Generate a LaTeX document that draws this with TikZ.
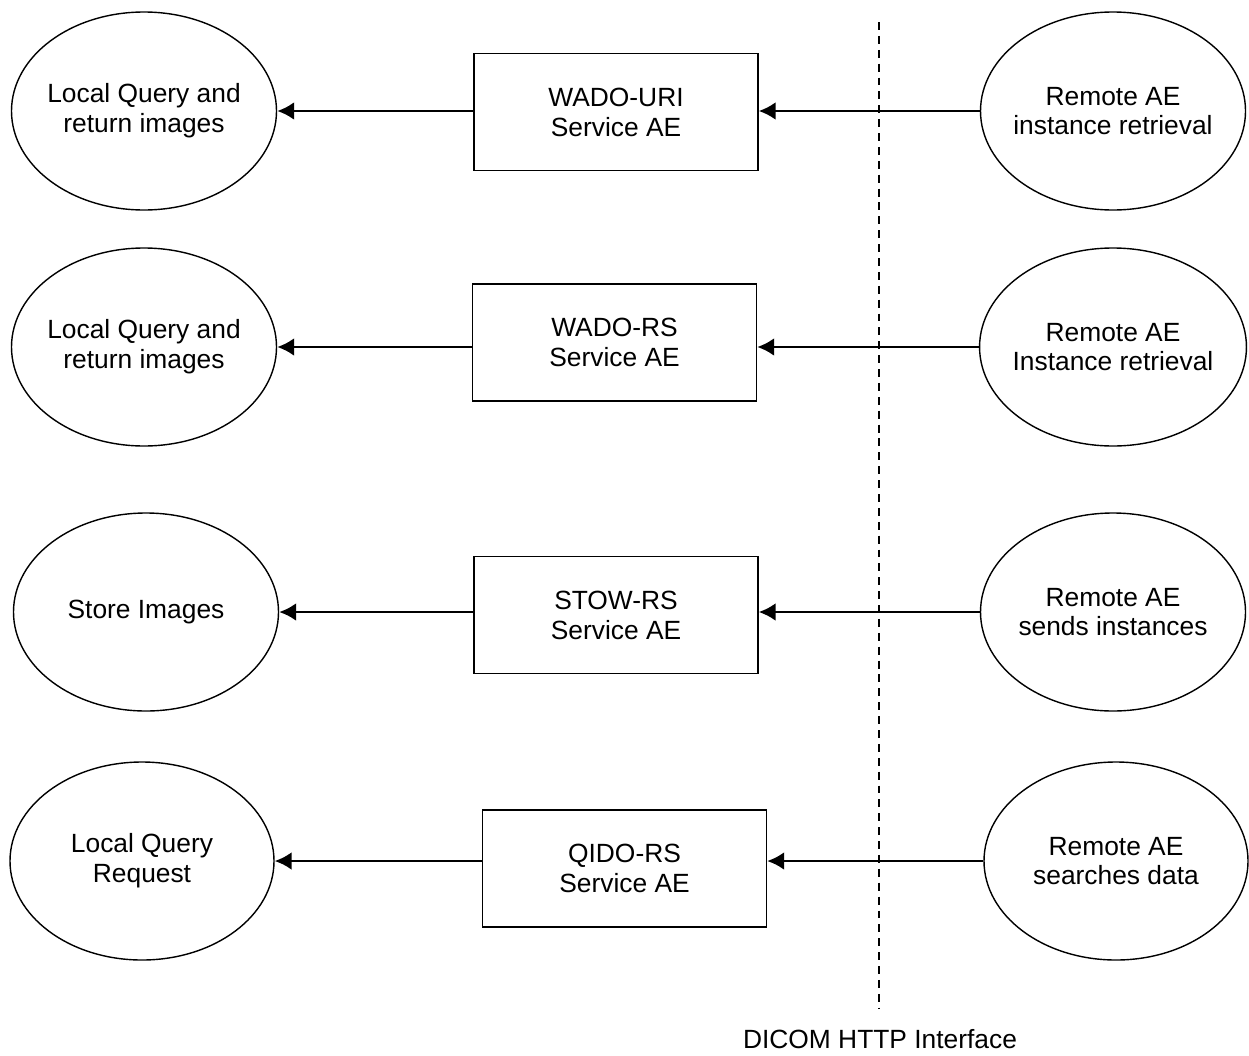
\documentclass[tikz,border=0pt]{standalone}
\usepackage{fontspec}
\setmainfont{Liberation Sans}
\usetikzlibrary{shapes.geometric,arrows.meta}

\tikzset{
    usecase/.style={draw,ellipse,line width=0.8pt,minimum width=5.3cm,minimum height=3.96cm,inner xsep=-0.12cm,inner ysep=0pt,align=center,font=\fontsize{15}{17}\selectfont},
    service/.style={draw,rectangle,line width=0.8pt,minimum width=5.68cm,minimum height=2.34cm,inner sep=0pt,align=center,font=\fontsize{15}{17}\selectfont},
    flow/.style={line width=1.6pt,-{Latex[length=0.34cm,width=0.36cm]}}
}

\begin{document}
\begin{tikzpicture}
        \useasboundingbox (0,0) rectangle (24.98,-21.1);
        \draw[line width=0.8pt,dash pattern=on 4.5pt off 3.4pt] (17.58,-0.44) coordinate (ifTop) -- (17.58,-20.16) coordinate (ifBot);
        \node[font=\fontsize{15}{17}\selectfont] (ifLabel) at (17.6,-20.78) {DICOM HTTP Interface};
        \node[usecase] (loc1) at (2.88,-2.22) {Local Query and\\return images};
        \node[service] (wuri) at (12.32,-2.24) {WADO-URI\\Service AE};
        \node[usecase] (rem1) at (22.26,-2.22) {Remote AE\\instance retrieval};
        \node[usecase] (loc2) at (2.88,-6.94) {Local Query and\\return images};
        \node[service] (wrs) at (12.29,-6.85) {WADO-RS\\Service AE};
        \node[usecase] (rem2) at (22.26,-6.94) {Remote AE\\Instance retrieval};
        \node[usecase] (loc3) at (2.92,-12.24) {Store Images};
        \node[service] (stow) at (12.32,-12.30) {STOW-RS\\Service AE};
        \node[usecase] (rem3) at (22.26,-12.24) {Remote AE\\sends instances};
        \node[usecase,minimum width=5.28cm] (loc4) at (2.84,-17.22) {Local Query\\Request};
        \node[service] (qido) at (12.49,-17.37) {QIDO-RS\\Service AE};
        \node[usecase,minimum width=5.28cm] (rem4) at (22.32,-17.22) {Remote AE\\searches data};
        \draw[flow] (rem1.west) -- (wuri.east |- rem1.west);
        \draw[flow] (wuri.west |- loc1.east) -- (loc1.east);
        \draw[flow] (rem2.west) -- (wrs.east |- rem2.west);
        \draw[flow] (wrs.west |- loc2.east) -- (loc2.east);
        \draw[flow] (rem3.west) -- (stow.east |- rem3.west);
        \draw[flow] (stow.west |- loc3.east) -- (loc3.east);
        \draw[flow] (rem4.west) -- (qido.east |- rem4.west);
        \draw[flow] (qido.west |- loc4.east) -- (loc4.east);
\end{tikzpicture}
\end{document}
